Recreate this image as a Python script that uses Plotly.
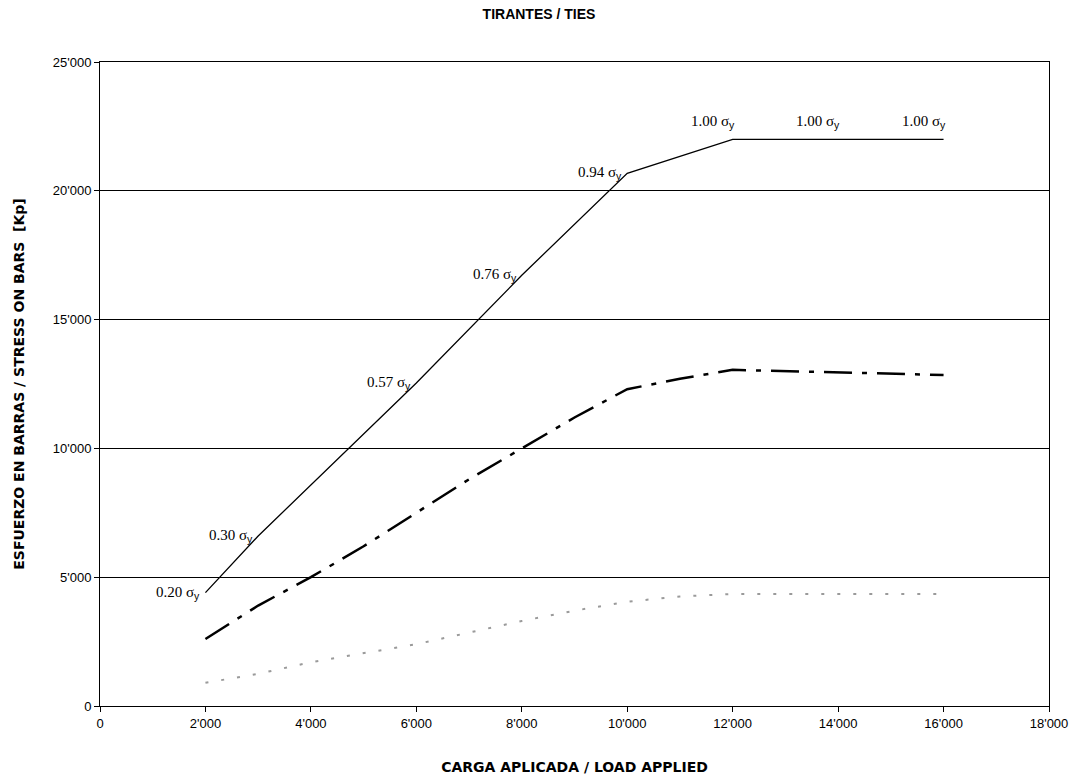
import plotly.graph_objects as go

# Applied load (Kp)
load_solid = [2000, 3000, 6000, 8000, 10000, 12000, 14000, 16000]
stress_solid = [4400, 6600, 12540, 16720, 20680, 22000, 22000, 22000]
ratio_labels = ["0.20", "0.30", "0.57", "0.76", "0.94", "1.00", "1.00", "1.00"]

load_dashdot = [2000, 3000, 4000, 5000, 6000, 7000, 8000, 9000, 10000, 11000, 12000, 13000, 14000, 15000, 16000]
stress_dashdot = [2600, 3900, 5000, 6200, 7500, 8800, 10000, 11200, 12300, 12700, 13050, 13000, 12950, 12900, 12850]

load_dotted = [2000, 3000, 4000, 5000, 6000, 7000, 8000, 9000, 10000, 11000, 12000, 13000, 14000, 15000, 16000]
stress_dotted = [900, 1250, 1700, 2050, 2400, 2850, 3300, 3700, 4050, 4250, 4350, 4350, 4350, 4350, 4350]

x_ticks = [0, 2000, 4000, 6000, 8000, 10000, 12000, 14000, 16000, 18000]
x_ticktext = ["0", "2'000", "4'000", "6'000", "8'000", "10'000", "12'000", "14'000", "16'000", "18'000"]
y_ticks = [0, 5000, 10000, 15000, 20000, 25000]
y_ticktext = ["0", "5'000", "10'000", "15'000", "20'000", "25'000"]

fig = go.Figure()

fig.add_trace(go.Scatter(
    x=load_dotted, y=stress_dotted, mode="lines",
    line=dict(color="#9a9a9a", width=2, dash="3px,13px"),
    hoverinfo="skip", showlegend=False))

fig.add_trace(go.Scatter(
    x=load_dashdot, y=stress_dashdot, mode="lines",
    line=dict(color="black", width=2.5, dash="28px,10px,5px,10px"),
    hoverinfo="skip", showlegend=False))

fig.add_trace(go.Scatter(
    x=load_solid, y=stress_solid, mode="lines",
    line=dict(color="black", width=1.3),
    hoverinfo="skip", showlegend=False))

serif = "Liberation Serif, Times New Roman, serif"
for xv, yv, lab in zip(load_solid, stress_solid, ratio_labels):
    text = f"{lab} σ<sub><span style='font-family:Liberation Sans'>y</span></sub>"
    if xv <= 10000:
        fig.add_annotation(x=xv, y=yv, text=text, showarrow=False,
                           xanchor="right", yanchor="middle", xshift=-3, yshift=0,
                           font=dict(family=serif, size=15, color="black"))
    else:
        fig.add_annotation(x=xv, y=yv, text=text, showarrow=False,
                           xanchor="right", yanchor="bottom", xshift=4, yshift=6,
                           font=dict(family=serif, size=15, color="black"))

tick_font = dict(family="Liberation Sans, Arial, sans-serif", size=13, color="black")
axis_title_font = dict(family="DejaVu Sans, sans-serif", size=14, color="black")

fig.update_layout(
    template="none",
    width=1078, height=781,
    margin=dict(l=100, r=29, t=62, b=75),
    paper_bgcolor="white", plot_bgcolor="white",
    title=dict(text="<b>TIRANTES / TIES</b>", x=0.5, xanchor="center", y=0.982, yanchor="middle",
               font=dict(family="Liberation Sans, Arial, sans-serif", size=14, color="black")),
    font=dict(family="Liberation Sans, Arial, sans-serif", size=13, color="black"),
    xaxis=dict(range=[0, 18000], tickvals=x_ticks, ticktext=x_ticktext, tickfont=tick_font,
               showgrid=False, zeroline=False, showline=True, linecolor="black", linewidth=1,
               mirror=True, ticks="outside", ticklen=5, tickcolor="black",
               title=dict(text="<b>CARGA APLICADA / LOAD APPLIED</b>", standoff=32,
                          font=axis_title_font)),
    yaxis=dict(range=[0, 25000], tickvals=y_ticks, ticktext=y_ticktext, tickfont=tick_font,
               showgrid=True, gridcolor="black", gridwidth=1, zeroline=False,
               showline=True, linecolor="black", linewidth=1, mirror=True,
               ticks="outside", ticklen=5, tickcolor="black",
               title=dict(text="<b>ESFUERZO EN BARRAS / STRESS ON BARS  [Kp]</b>", standoff=24,
                          font=axis_title_font)),
)

fig.write_html("out.html")
